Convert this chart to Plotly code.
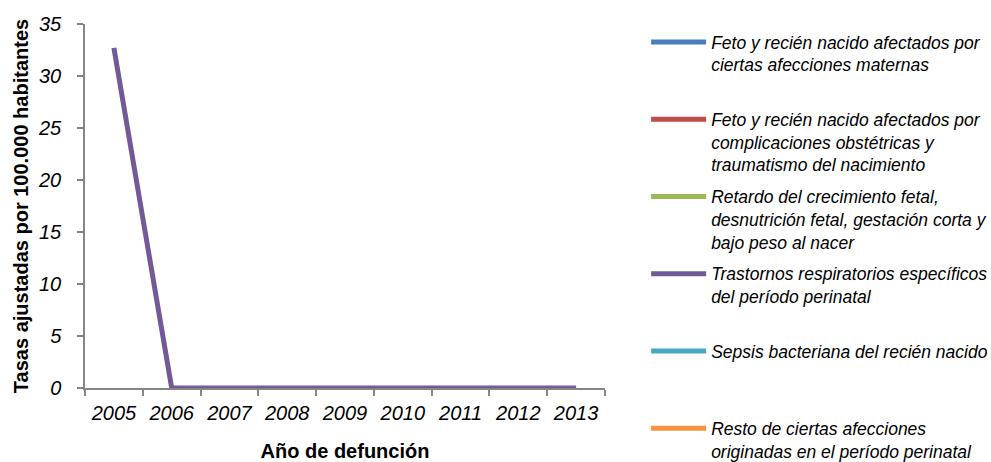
import plotly.graph_objects as go

# Años de defunción
years = ["2005", "2006", "2007", "2008", "2009", "2010", "2011", "2012", "2013"]

# Tasas ajustadas por 100.000 habitantes, por grupo de causas
feto_afecciones_maternas = [None] * 9
feto_complicaciones_obstetricas = [None] * 9
retardo_crecimiento_fetal = [None] * 9
trastornos_respiratorios = [32.7, 0, 0, 0, 0, 0, 0, 0, 0]
sepsis_bacteriana = [None] * 9
resto_afecciones_perinatales = [None] * 9

series_names = [
    "Feto y recién nacido afectados por<br>ciertas afecciones maternas<br> ",
    "Feto y recién nacido afectados por<br>complicaciones obstétricas y<br>traumatismo del nacimiento",
    "Retardo del crecimiento fetal,<br>desnutrición fetal, gestación corta y<br>bajo peso al nacer",
    "Trastornos respiratorios específicos<br>del período perinatal<br> ",
    "Sepsis bacteriana del recién nacido<br> <br> ",
    "Resto de ciertas afecciones<br>originadas en el período perinatal",
]
series_values = [
    feto_afecciones_maternas,
    feto_complicaciones_obstetricas,
    retardo_crecimiento_fetal,
    trastornos_respiratorios,
    sepsis_bacteriana,
    resto_afecciones_perinatales,
]
series_colors = ["#4A7EBB", "#BE4B48", "#98B954", "#735A96", "#46AAC5", "#F69240"]

FONT = "Arial, Liberation Sans, sans-serif"

fig = go.Figure()
for i, (name, vals, color) in enumerate(zip(series_names, series_values, series_colors)):
    fig.add_trace(go.Scatter(
        x=years, y=vals, name=name, mode="lines",
        line=dict(color=color, width=5),
        legendgroup=f"g{i}",
        connectgaps=False,
    ))

fig.update_layout(
    width=991, height=462,
    margin=dict(l=85, r=386, t=24, b=74),
    paper_bgcolor="white", plot_bgcolor="white",
    font=dict(family=FONT, color="#000000"),
    showlegend=True,
    legend=dict(
        x=0.652, xref="container", y=0.948, yref="container",
        xanchor="left", yanchor="top",
        font=dict(family=FONT, size=17.5, style="italic", color="#000000"),
        valign="top", itemwidth=55, tracegroupgap=6,
        maxheight=1,
        bgcolor="rgba(0,0,0,0)",
    ),
    xaxis=dict(
        type="category", range=[-0.5, 8.5], automargin=False,
        showline=True, linecolor="#868686", linewidth=1.5,
        ticks="outside", tickson="boundaries", ticklen=6, tickcolor="#868686", tickwidth=1.5,
        showgrid=False, zeroline=False,
        tickfont=dict(family=FONT, size=20, style="italic", color="#000000"),
        ticklabelstandoff=6,
        title=dict(text="<b>Año de defunción</b>", font=dict(family=FONT, size=20), standoff=23),
    ),
    yaxis=dict(
        range=[0, 35], dtick=5, automargin=False,
        showline=True, linecolor="#868686", linewidth=1.5,
        ticks="outside", ticklen=6, tickcolor="#868686", tickwidth=1.5,
        showgrid=False, zeroline=False,
        tickfont=dict(family=FONT, size=20, style="italic", color="#000000"),
        ticklabelstandoff=12,
        title=dict(text="<b>Tasas ajustadas por 100.000 habitantes</b>", font=dict(family=FONT, size=20), standoff=4),
    ),
)

fig.write_html("out.html")
